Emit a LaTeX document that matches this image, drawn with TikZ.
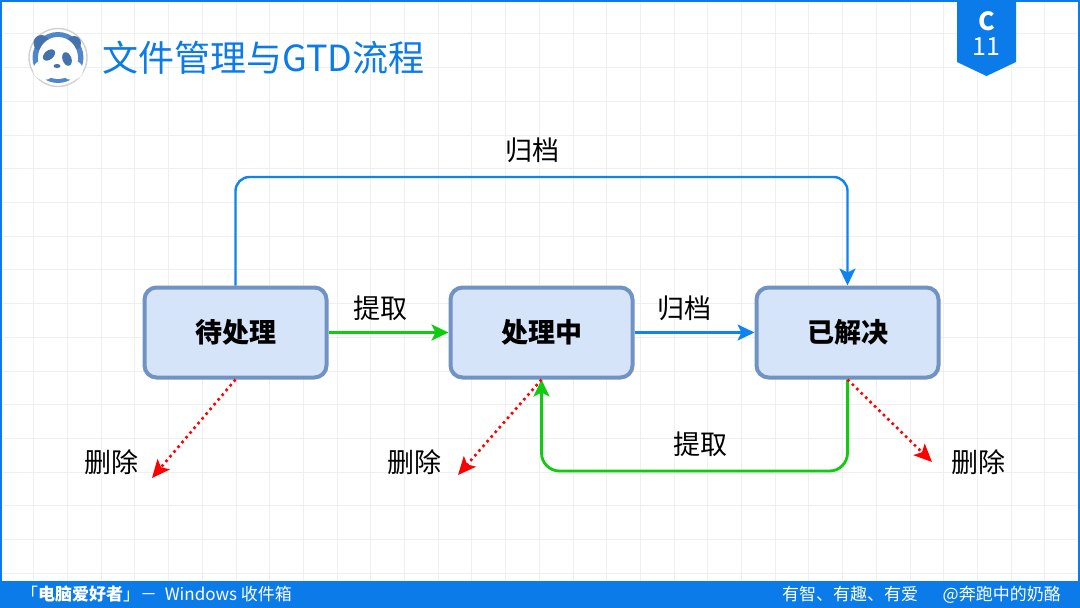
\documentclass[tikz,border=0pt]{standalone}
\usepackage{fontspec}
\setmainfont{Noto Sans CJK SC}
\newfontfamily\cjkbold[BoldFont={Noto Sans CJK SC Bold}]{Noto Sans CJK SC}
\usetikzlibrary{arrows.meta,shapes.geometric}
\definecolor{brandblue}{HTML}{0A7BE8}
\definecolor{flowblue}{HTML}{0F84F0}
\definecolor{flowgreen}{HTML}{10CC10}
\definecolor{boxfill}{HTML}{D6E4F9}
\definecolor{boxline}{HTML}{7193C3}
\definecolor{gridc}{HTML}{EFEFEF}
\definecolor{pandablue}{HTML}{4F86CC}
\newcommand{\fsz}[1]{\fontsize{#1}{#1}\selectfont}
\tikzset{
  x=1pt,y=-1pt,
  state/.style={draw=boxline,fill=boxfill,line width=4pt,rounded corners=12pt,minimum width=182pt,minimum height=90pt,inner sep=0pt,font=\fsz{27}\bfseries,text=black},
  lab/.style={font=\fsz{27},text=black,inner sep=0pt},
  tipped/.style={-{Stealth[length=17pt,width=16pt,inset=4pt]}},
  bluearrow/.style={tipped,draw=flowblue,line width=2.4pt,rounded corners=14pt},
  greenarrow/.style={tipped,draw=flowgreen,line width=2.8pt,rounded corners=18pt},
  redarrow/.style={-{Stealth[length=18pt,width=16pt,inset=4pt]},draw=red,line width=2.6pt,dash pattern=on 2.6pt off 3.6pt},
  bartext/.style={font=\fsz{17},text=white,inner sep=0pt},
}
\begin{document}
\begin{tikzpicture}
\useasboundingbox (0,0) rectangle (1080,608);
\fill[white] (0,0) rectangle (1080,608);
% grid
\foreach \k in {1,...,31} \draw[gridc,line width=0.7pt] ({\k*33.7},0) -- ({\k*33.7},581);
\foreach \k in {1,...,17} \draw[gridc,line width=0.7pt] (0,{\k*33.72}) -- (1080,{\k*33.72});
% frame and bottom bar
\draw[brandblue,line width=2.4pt] (1.2,581) -- (1.2,1.2) -- (1078.8,1.2) -- (1078.8,581);
\fill[brandblue] (0,581) rectangle (1080,608);
% ribbon
\fill[brandblue] (957,0) -- (1016,0) -- (1016,62) -- (986.5,76) -- (957,62) -- cycle;
\node[font=\fsz{25}\bfseries,text=white,inner sep=0pt] (ribbonc) at (986.5,21) {C};
\node[font=\fsz{25},text=white,inner sep=0pt] (ribbonn) at (986.5,47) {11};
% logo
\fill[white,draw=black!18,line width=1.4pt] (58,57.5) circle (29);
\fill[pandablue] (58,57.5) circle (25.5);
\fill[pandablue!85!black] (41.5,43) circle (8);
\fill[pandablue!85!black] (74,43) circle (7);
\fill[white] (58,58) ellipse (20 and 21);
\fill[white] (44,70) ellipse (11 and 10);
\fill[white] (72,70) ellipse (11 and 10);
\fill[pandablue!85!black,rotate around={40:(49,55)}] (49,55) ellipse (7 and 4.5);
\fill[pandablue!85!black,rotate around={-70:(67,59)}] (67,59) ellipse (7 and 4.5);
\fill[pandablue!85!black] (57,66) ellipse (3.5 and 2);
% title
\node[anchor=west,font=\fsz{36},text=brandblue,inner sep=0pt] (title) at (102,58) {文件管理与GTD流程};
% states
\node[state] (todo) at (235.5,332.5) {待处理};
\node[state] (doing) at (541.5,332.5) {处理中};
\node[state] (done) at (847.5,332.5) {已解决};
% free ends
\coordinate (del1) at (152,478);
\coordinate (del2) at (458,475);
\coordinate (del3) at (932,462);
% connectors
\draw[bluearrow] (todo.north) -- (235.5,177) -- (847.5,177) -- (done.north);
\draw[greenarrow,rounded corners=0pt] (todo.east) -- (doing.west);
\draw[bluearrow,rounded corners=0pt] (doing.east) -- (done.west);
\draw[greenarrow] (done.south) -- (847.5,471) -- (541.5,471) -- (doing.south);
\draw[redarrow] (todo.south) -- (del1);
\draw[redarrow] (doing.south) -- (del2);
\draw[redarrow] (done.south) -- (del3);
% labels
\node[lab] (l1) at (532.5,150) {归档};
\node[lab] (l2) at (380,308) {提取};
\node[lab] (l3) at (684.5,308) {归档};
\node[lab] (l4) at (700,444) {提取};
\node[lab] (d1) at (111,462) {删除};
\node[lab] (d2) at (414,462) {删除};
\node[lab] (d3) at (978,462) {删除};
% bottom bar text
\node[bartext,anchor=west] (footl) at (21,594) {「\textbf{电脑爱好者}」－ \ Windows 收件箱};
\node[bartext,anchor=west] (footr1) at (782,594.5) {有智、有趣、有爱};
\node[bartext,anchor=east] (footr2) at (1061,594.5) {@奔跑中的奶酪};
\end{tikzpicture}
\end{document}
